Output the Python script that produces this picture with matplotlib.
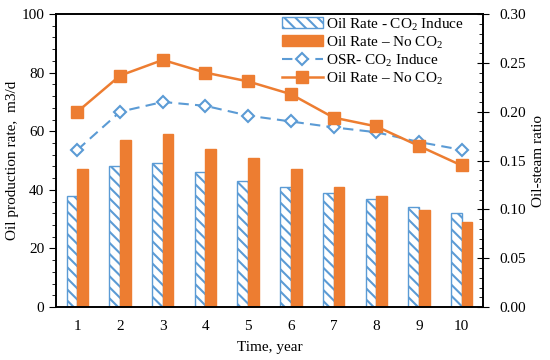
import numpy as np
import matplotlib
matplotlib.use('Agg')
import matplotlib.pyplot as plt
from matplotlib.ticker import MultipleLocator

plt.rcParams['font.family'] = ['Liberation Serif', 'DejaVu Serif']
plt.rcParams['mathtext.fontset'] = 'custom'
plt.rcParams['mathtext.rm'] = 'Liberation Serif'
plt.rcParams['hatch.linewidth'] = 1.5

years = [1, 2, 3, 4, 5, 6, 7, 8, 9, 10]
rate_co2 = [38, 48, 49, 46, 43, 41, 39, 37, 34, 32]
rate_noco2 = [47, 57, 59, 54, 51, 47, 41, 38, 33, 29]
osr_co2 = [0.161, 0.200, 0.210, 0.206, 0.196, 0.190, 0.184, 0.179, 0.169, 0.161]
osr_noco2 = [0.200, 0.237, 0.253, 0.240, 0.231, 0.218, 0.194, 0.185, 0.165, 0.145]

blue = '#5B9BD5'
orange = '#ED7D31'

fig = plt.figure(figsize=(5.5, 3.6), dpi=100)
ax = fig.add_axes([0.102, 0.147, 0.776, 0.814])
ax2 = ax.twinx()

x = np.arange(len(years))
w = 0.25
b1 = ax.bar(x - w / 2, rate_co2, w, color='white', edgecolor=blue,
            hatch='\\\\\\', linewidth=1.0, label='Oil Rate - CO$_2$ Induce')
b2 = ax.bar(x + w / 2, rate_noco2, w, color=orange, edgecolor=orange,
            label='Oil Rate \u2013 No CO$_2$')

l1, = ax2.plot(x, osr_co2, color=blue, ls='--', dashes=(5, 3), lw=1.5,
               marker='D', ms=6.5, mfc='white', mec=blue, mew=1.5,
               label='OSR- CO$_2$ Induce')
l2, = ax2.plot(x, osr_noco2, color=orange, ls='-', lw=1.8, marker='s',
               ms=8, mfc=orange, mec=orange,
               label='Oil Rate \u2013 No CO$_2$')

ax.set_xlim(-0.5, len(years) - 0.5)
ax.set_ylim(0, 100)
ax2.set_ylim(0, 0.30)
ax.set_xticks(x)
ax.set_xticklabels([str(y) for y in years])
ax.yaxis.set_major_locator(MultipleLocator(20))
ax.yaxis.set_minor_locator(MultipleLocator(4))
ax2.yaxis.set_major_locator(MultipleLocator(0.05))
ax2.yaxis.set_minor_locator(MultipleLocator(0.01))
ax2.yaxis.set_major_formatter(matplotlib.ticker.FormatStrFormatter('%.2f'))

ax.tick_params(axis='x', length=0, labelsize=11, pad=9)
ax.tick_params(axis='y', which='major', direction='out', length=5,
               labelsize=11)
ax.tick_params(axis='y', which='minor', direction='out', length=3)
ax2.tick_params(axis='y', which='major', direction='inout', length=8,
                labelsize=11, pad=8)
ax2.tick_params(axis='y', which='minor', direction='in', length=3)

for a in (ax, ax2):
    for s in a.spines.values():
        s.set_linewidth(1.2)

ax.set_xlabel('Time, year', fontsize=11, labelpad=6)
ax.set_ylabel('Oil production rate,  m3/d', fontsize=11, labelpad=2)
ax2.set_ylabel('Oil-steam ratio', fontsize=11)

ax2.legend([b1, b2, l1, l2], [h.get_label() for h in (b1, b2, l1, l2)],
           loc='upper right', bbox_to_anchor=(0.98, 1.03), frameon=False,
           fontsize=11, handlelength=2.7, handletextpad=0.2,
           labelspacing=0.1, borderaxespad=0.3)

fig.savefig('out.png', dpi=100)
